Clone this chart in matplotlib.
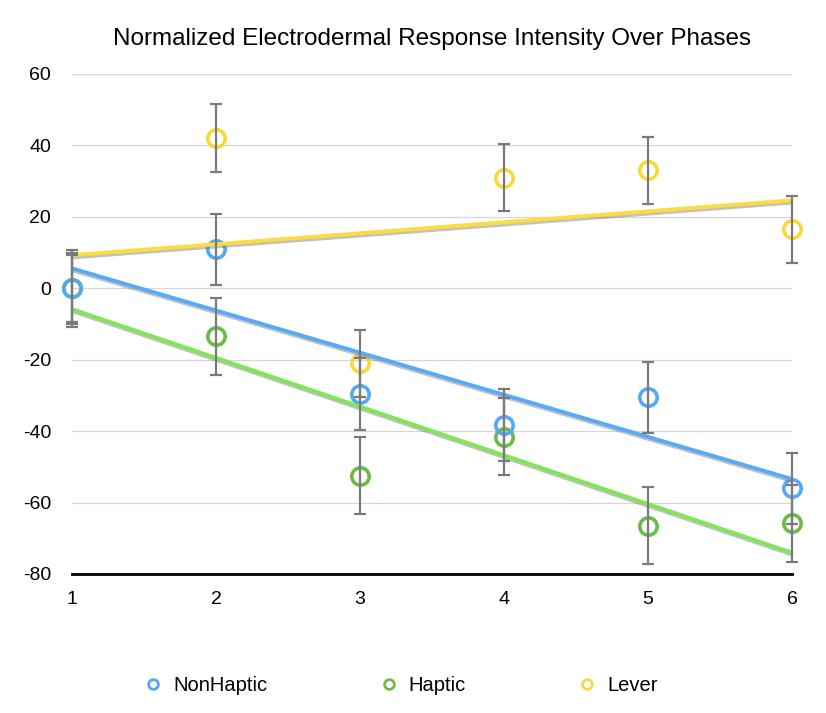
import matplotlib
matplotlib.use("Agg")
import matplotlib.pyplot as plt
import matplotlib.patheffects as pe
from matplotlib.lines import Line2D
import numpy as np

plt.rcParams['font.family'] = ['Liberation Sans', 'DejaVu Sans']
plt.rcParams['axes.unicode_minus'] = False

phases = [1, 2, 3, 4, 5, 6]
series_names = ["NonHaptic", "Haptic", "Lever"]
nonhaptic = [0, 10.9, -29.6, -38.3, -30.5, -56.0]
haptic = [0, -13.4, -52.5, -41.5, -66.5, -65.8]
lever = [0, 42.1, -21.0, 31.0, 33.1, 16.5]
nonhaptic_err = [10.0] * 6
haptic_err = [10.8] * 6
lever_err = [9.4] * 6

marker_colors = ["#55a8f6", "#6cbb46", "#fbd83a"]
trend_colors = ["#58aaf7", "#7fe656", "#fcdc3f"]

fig = plt.figure(figsize=(8.26, 7.13), dpi=100)
ax = fig.add_axes([72 / 826, 139 / 713, 720 / 826, 500 / 713])

x = np.array(phases, dtype=float)
data = [nonhaptic, haptic, lever]
errs = [nonhaptic_err, haptic_err, lever_err]

# draw markers back to front so NonHaptic ends up on top
for vals, col in list(zip(data, marker_colors))[::-1]:
    ax.plot(x, vals, linestyle="none", marker="o", markersize=12.5,
            markerfacecolor="none", markeredgecolor=col, markeredgewidth=2.6,
            clip_on=False, zorder=3)

# linear trend lines with a soft shadow
for vals, col in zip(data, trend_colors):
    k, b = np.polyfit(x, vals, 1)
    ax.plot(x, k * x + b, color=col, linewidth=2.8, solid_capstyle="butt",
            zorder=4, clip_on=False,
            path_effects=[pe.SimpleLineShadow(offset=(0.8, -1.6), shadow_color="#777777", alpha=0.45),
                          pe.Normal()])

for vals, e in zip(data, errs):
    ax.errorbar(x, vals, yerr=e, fmt="none", ecolor="#7a7a7a", elinewidth=1.6,
                capsize=4.6, capthick=1.6, zorder=5, clip_on=False)

ax.set_xlim(1, 6)
ax.set_ylim(-80, 60)
ax.set_yticks(np.arange(-80, 61, 20))
ax.set_xticks(phases)
ax.yaxis.grid(True, color="#d6d6d6", linewidth=0.9)
ax.set_axisbelow(True)
for side in ["top", "right", "left"]:
    ax.spines[side].set_visible(False)
ax.spines["bottom"].set_linewidth(2)
ax.spines["bottom"].set_color("black")
ax.tick_params(axis="both", length=0, labelsize=14, colors="black")
ax.tick_params(axis="y", pad=15)
ax.tick_params(axis="x", pad=12)

ax.set_title("Normalized Electrodermal Response Intensity Over Phases",
             fontsize=17.5, pad=21)

handles = [Line2D([], [], linestyle="none", marker="o", markersize=7,
                  markerfacecolor="none", markeredgecolor=c, markeredgewidth=2)
           for c in marker_colors]
fig.legend(handles, series_names, loc="center", bbox_to_anchor=(0.486, 0.038),
           ncol=3, frameon=False, fontsize=14.5, handlelength=0.8,
           handletextpad=0.6, columnspacing=5.6)

fig.savefig("out.png", dpi=100)
